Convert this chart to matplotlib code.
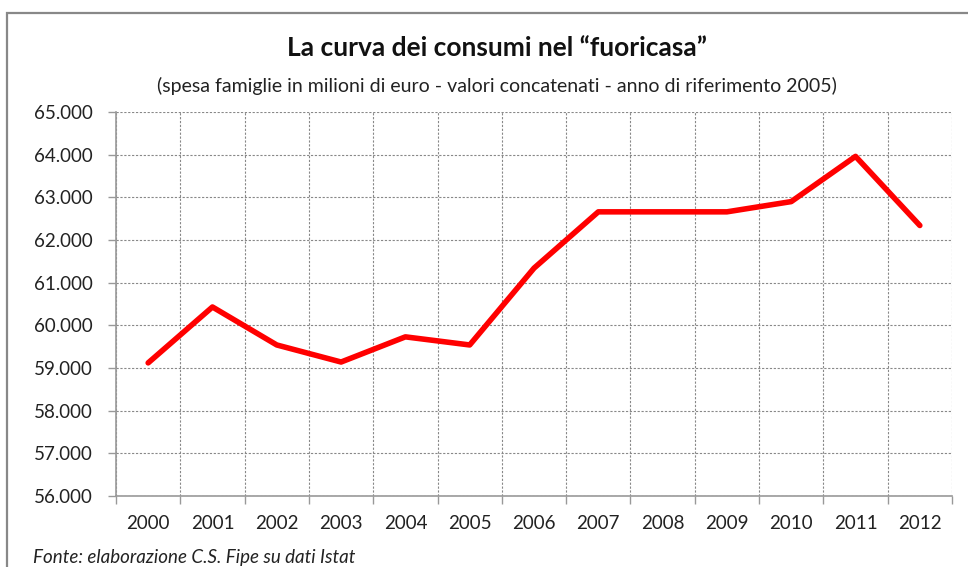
import matplotlib
matplotlib.use("Agg")
import matplotlib.pyplot as plt
from matplotlib.ticker import FuncFormatter, MultipleLocator
from matplotlib.patches import Rectangle

# Dati: spesa famiglie fuoricasa (milioni di euro)
anni = ["2000", "2001", "2002", "2003", "2004", "2005", "2006",
        "2007", "2008", "2009", "2010", "2011", "2012"]
spesa = [59120, 60430, 59540, 59140, 59730, 59540, 61340,
         62660, 62660, 62660, 62900, 63960, 62340]

plt.rcParams['font.family'] = ['Lato', 'DejaVu Sans']

fig = plt.figure(figsize=(9.68, 5.67), dpi=100)
ax = fig.add_axes([116/968, 1-496/567, (952-116)/968, (496-112)/567])

x = range(len(anni))
ax.plot(x, spesa, color='#ff0000', lw=4, solid_capstyle='round', solid_joinstyle='round', zorder=3)

ax.set_xlim(-0.5, len(anni)-0.5)
ax.set_ylim(56000, 65000)
ax.yaxis.set_major_locator(MultipleLocator(1000))
ax.yaxis.set_major_formatter(FuncFormatter(lambda v, p: f"{v:,.0f}".replace(",", ".")))

ax.set_xticks(list(x))
ax.set_xticklabels(anni)
ax.set_xticks([i - 0.5 for i in range(len(anni)+1)], minor=True)
ax.tick_params(axis='x', which='major', length=0, pad=14, labelsize=13.5, colors='#222222')
ax.tick_params(axis='x', which='minor', length=6, width=1, color='#999999')
ax.tick_params(axis='y', length=6, width=1, color='#999999', pad=11, labelsize=13.5, labelcolor='#222222')

ax.grid(True, axis='y', which='major', ls=(0, (2, 1.5)), color='#888888', lw=0.8)
ax.grid(True, axis='x', which='minor', ls=(0, (2, 1.5)), color='#888888', lw=0.8)

for s in ['top', 'right']:
    ax.spines[s].set_visible(False)
for s in ['left', 'bottom']:
    ax.spines[s].set_color('#999999')
    ax.spines[s].set_linewidth(1.2)

fig.text(497/968, 1-48/567, "La curva dei consumi nel \u201cfuoricasa\u201d",
         ha='center', va='center', fontsize=19, fontweight='bold', color='#111111')
fig.text(497/968, 1-86/567, "(spesa famiglie in milioni di euro - valori concatenati - anno di riferimento 2005)",
         ha='center', va='center', fontsize=14, color='#222222')
fig.text(33/968, 1-557/567, "Fonte: elaborazione C.S. Fipe su dati Istat",
         ha='left', va='center', fontsize=13.5, style='italic', color='#222222')

# cornice del grafico (tagliata a destra e in basso)
fig.patches.append(Rectangle((7/968, -0.1), 1.2, 1.1 - 13/567, transform=fig.transFigure,
                             fill=False, edgecolor='#888888', lw=1.6))

fig.savefig("out.png", dpi=100)
